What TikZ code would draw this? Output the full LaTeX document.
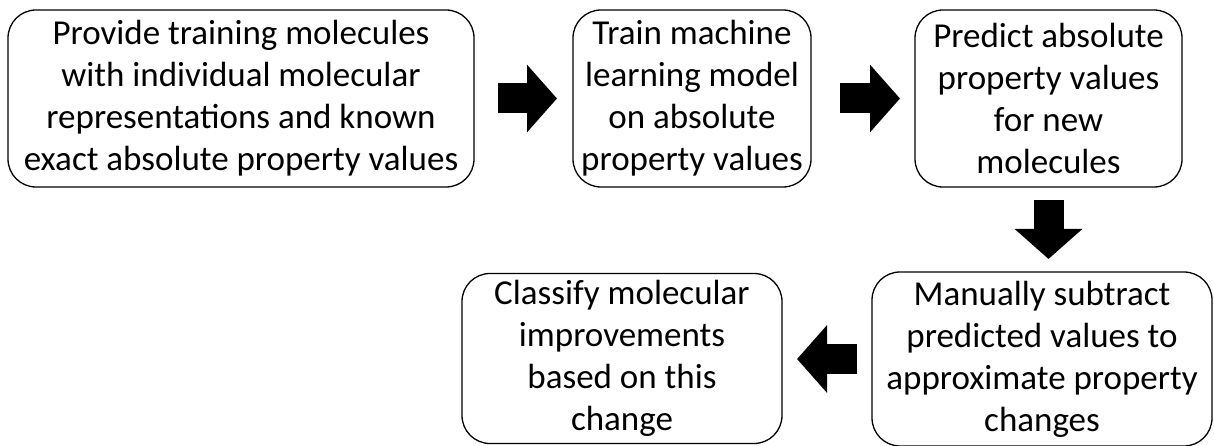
\documentclass[tikz,border=0pt]{standalone}
\usepackage{fontspec}
\setmainfont{Carlito}
\usetikzlibrary{arrows.meta}

\tikzset{
  stepbox/.style={draw=black, line width=1.3pt, rounded corners=28pt, fill=white,
    align=center, inner sep=0pt, outer sep=0pt,
    font=\fontsize{35}{42}\selectfont},
  blockarrow/.style={draw=black, line width=30pt, line cap=butt,
    -{Triangle[length=30pt, width=66pt]}}
}

\begin{document}
\begin{tikzpicture}[x=1pt, y=-1pt]
  \useasboundingbox[fill=white] (0,0) rectangle (1214,446);

  % process steps
  \node[stepbox, minimum width=466pt, minimum height=177pt] (b1) at (241,98.5)
    {Provide training molecules\\with individual molecular\\representations and known\\exact absolute property values};
  \node[stepbox, minimum width=238pt, minimum height=177pt] (b2) at (692,98.5)
    {Train machine\\learning model\\on absolute\\property values};
  \node[stepbox, minimum width=267pt, minimum height=177pt] (b3) at (1048.5,98.5)
    {Predict absolute\\property values\\for new\\molecules};
  \node[stepbox, minimum width=340pt, minimum height=174pt] (b4) at (1042,359)
    {Manually subtract\\predicted values to\\approximate property\\changes};
  \node[stepbox, minimum width=320pt, minimum height=170pt] (b5) at (622,358.5)
    {Classify molecular\\improvements\\based on this\\change};

  % block arrows between the steps
  \draw[blockarrow, shorten <=24pt, shorten >=16pt] (b1.east) -- (b2.west);
  \draw[blockarrow, shorten <=29pt, shorten >=15pt] (b2.east) -- (b3.west);
  \draw[blockarrow, shorten <=13pt, shorten >=13pt] (b3.south) -- (b3.south |- b4.north);
  \draw[blockarrow, shorten <=15pt, shorten >=15pt] (b4.west) -- (b4.west -| b5.east);
\end{tikzpicture}
\end{document}
